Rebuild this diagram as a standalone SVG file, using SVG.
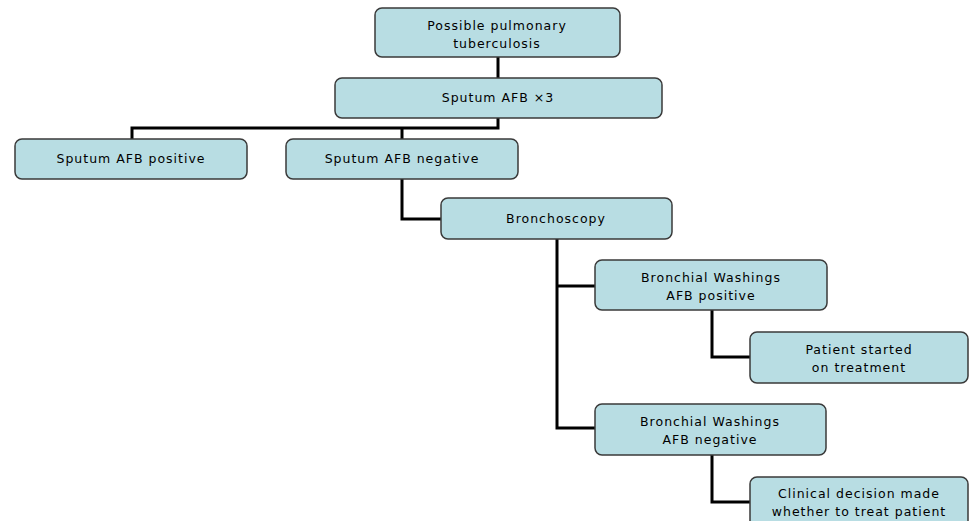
<svg xmlns="http://www.w3.org/2000/svg" width="970" height="521" viewBox="0 0 970 521">
<style>
.box{fill:#b8dde3;stroke:#3a3a3a;stroke-width:1.5}
.t{font-family:"DejaVu Sans",sans-serif;font-size:12.5px;fill:#000;text-anchor:middle;letter-spacing:1px}
.c{fill:none;stroke:#000;stroke-width:3}
</style>
<rect width="970" height="521" fill="#fff"/>
<g id="connectors">
<path class="c" d="M498 57V78"/>
<path class="c" d="M498 118V128H132V139M402 128V139"/>
<path class="c" d="M402 179V219H441"/>
<path class="c" d="M557 239V428H595M557 286H595"/>
<path class="c" d="M712 310V357H750"/>
<path class="c" d="M712 455V502H750"/>
</g>
<g id="n1"><rect class="box" x="375" y="8" width="245" height="49" rx="7"/><text class="t" x="497" y="30">Possible pulmonary</text><text class="t" x="497" y="48">tuberculosis</text></g>
<g id="n2"><rect class="box" x="335" y="78" width="327" height="40" rx="7"/><text class="t" x="498" y="102">Sputum AFB ×3</text></g>
<g id="n3"><rect class="box" x="15" y="139" width="232" height="40" rx="7"/><text class="t" x="131" y="163">Sputum AFB positive</text></g>
<g id="n4"><rect class="box" x="286" y="139" width="232" height="40" rx="7"/><text class="t" x="402" y="163">Sputum AFB negative</text></g>
<g id="n5"><rect class="box" x="441" y="198" width="231" height="41" rx="7"/><text class="t" x="556" y="223">Bronchoscopy</text></g>
<g id="n6"><rect class="box" x="595" y="260" width="232" height="50" rx="7"/><text class="t" x="711" y="282">Bronchial Washings</text><text class="t" x="711" y="300">AFB positive</text></g>
<g id="n7"><rect class="box" x="750" y="332" width="218" height="51" rx="7"/><text class="t" x="859" y="354">Patient started</text><text class="t" x="859" y="372">on treatment</text></g>
<g id="n8"><rect class="box" x="595" y="404" width="231" height="51" rx="7"/><text class="t" x="710" y="426">Bronchial Washings</text><text class="t" x="710" y="444">AFB negative</text></g>
<g id="n9"><rect class="box" x="750" y="477" width="218" height="60" rx="7"/><text class="t" x="859" y="498">Clinical decision made</text><text class="t" x="859" y="516">whether to treat patient</text></g>
</svg>
